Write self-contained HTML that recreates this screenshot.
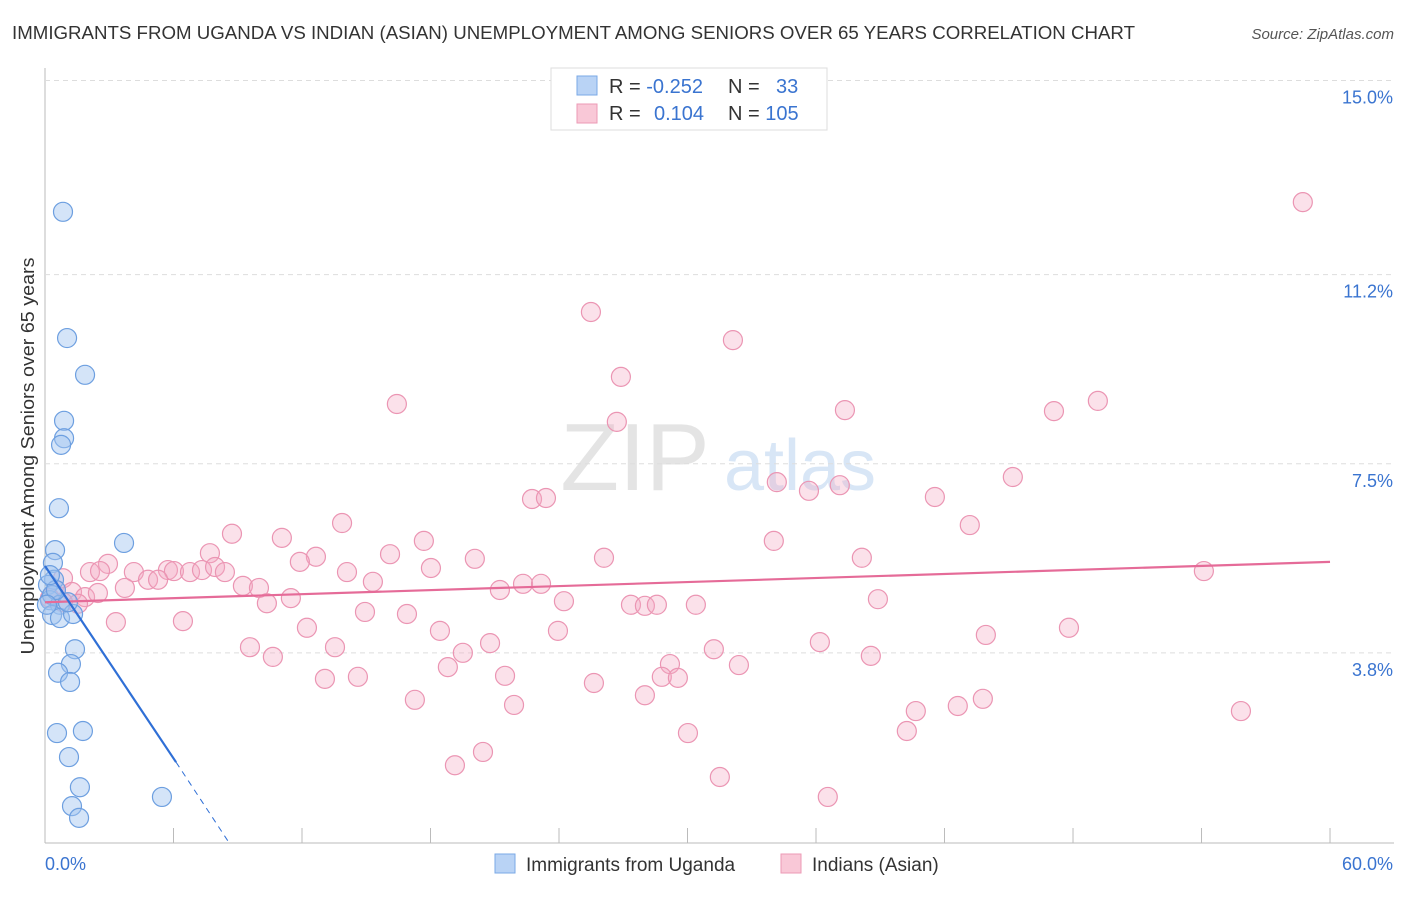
<!DOCTYPE html>
<html><head><meta charset="utf-8"><style>
body{margin:0;background:#fff;font-family:"Liberation Sans",sans-serif}
svg text{font-family:"Liberation Sans",sans-serif}
</style></head><body>
<svg id="chart" width="1406" height="892">
<text x="12" y="39" font-size="18" fill="#333" textLength="1123" lengthAdjust="spacingAndGlyphs">IMMIGRANTS FROM UGANDA VS INDIAN (ASIAN) UNEMPLOYMENT AMONG SENIORS OVER 65 YEARS CORRELATION CHART</text>
<text x="1394" y="39" font-size="15" fill="#555" font-style="italic" text-anchor="end">Source: ZipAtlas.com</text>
<text x="635" y="490" font-size="96" fill="#e4e4e4" font-family="Liberation Serif" text-anchor="middle">ZIP</text>
<text x="800" y="490" font-size="72" fill="#d8e6f6" text-anchor="middle">atlas</text>
<text transform="translate(34,456) rotate(-90)" font-size="18" fill="#333" text-anchor="middle" textLength="397" lengthAdjust="spacingAndGlyphs">Unemployment Among Seniors over 65 years</text>
<g id="grid"></g><g id="pts"></g><g id="lines"></g>
<g>
<rect x="551" y="68" width="276" height="62" fill="#fff" stroke="#ddd"/>
<rect x="577" y="76" width="20" height="19" fill="#b9d3f5" stroke="#7aa8e6"/>
<rect x="577" y="104" width="20" height="19" fill="#f9c8d7" stroke="#ec9ab5"/>
<text x="609" y="93" font-size="20" fill="#333">R = <tspan fill="#3a74d0">-0.252</tspan></text>
<text x="728" y="93" font-size="20" fill="#333">N = <tspan x="776" fill="#3a74d0">33</tspan></text>
<text x="609" y="120" font-size="20" fill="#333">R = <tspan x="654" fill="#3a74d0">0.104</tspan></text>
<text x="728" y="120" font-size="20" fill="#333">N = <tspan fill="#3a74d0">105</tspan></text>
</g>
<g>
<rect x="495" y="854" width="20" height="19" fill="#b9d3f5" stroke="#7aa8e6"/>
<text x="526" y="871" font-size="19" fill="#333">Immigrants from Uganda</text>
<rect x="781" y="854" width="20" height="19" fill="#f9c8d7" stroke="#ec9ab5"/>
<text x="812" y="871" font-size="19" fill="#333">Indians (Asian)</text>
</g>
</svg>
<script>
const yTicks=[3.8,7.5,11.2,15.0];
const yTickLabels=["3.8%","7.5%","11.2%","15.0%"];
const xTickCount=10;
const xLabels=["0.0%","60.0%"];
const ugX=[0.84,1.03,1.87,0.89,0.89,0.75,0.65,3.69,0.47,0.37,0.42,0.14,0.23,0.33,0.70,0.33,0.70,1.31,1.07,0.51,1.40,1.21,0.61,1.17,0.56,1.77,1.12,1.63,1.26,1.59,5.46,0.09,0.23];
const ugY=[12.43,9.96,9.24,8.34,8.00,7.87,6.63,5.95,5.81,5.56,5.23,5.13,4.83,4.93,4.74,4.54,4.48,4.56,4.79,5.03,3.87,3.58,3.41,3.23,2.23,2.27,1.76,1.17,0.80,0.57,0.98,4.74,5.32];
const inX=[58.73,25.49,32.12,26.89,16.43,37.35,47.11,49.16,26.70,22.74,23.39,34.17,35.67,37.11,41.55,45.19,43.18,13.87,8.73,11.06,17.69,7.70,12.65,11.90,16.11,20.07,26.10,34.03,38.14,54.11,2.94,2.10,2.57,4.15,5.74,6.02,6.77,7.33,7.94,8.40,4.81,5.28,3.73,9.24,9.99,14.10,15.31,18.02,21.24,22.32,23.16,10.36,11.48,14.94,16.90,24.23,27.36,28.01,28.57,30.39,38.89,3.31,6.44,12.23,18.44,23.95,9.57,13.54,19.51,20.78,10.64,31.23,36.18,38.56,43.93,47.81,18.81,21.48,13.07,14.61,29.18,28.80,29.55,32.40,25.63,28.01,17.27,21.90,40.66,42.62,43.79,55.84,30.02,40.24,20.45,19.14,31.51,36.55,0.84,0.51,1.26,1.87,2.47,0.84,0.23,1.54];
const inY=[12.62,10.47,9.92,9.20,8.67,8.55,8.53,8.73,8.32,6.81,6.83,7.14,6.97,7.08,6.85,7.24,6.30,6.34,6.13,6.05,5.99,5.75,5.68,5.58,5.73,5.64,5.66,5.99,5.66,5.40,5.54,5.38,5.40,5.38,5.42,5.40,5.38,5.42,5.48,5.38,5.23,5.23,5.07,5.11,5.07,5.38,5.19,5.46,5.03,5.15,5.15,4.77,4.87,4.60,4.56,4.81,4.74,4.72,4.74,4.74,4.85,4.40,4.42,4.29,4.23,4.23,3.91,3.91,3.80,3.99,3.72,3.87,4.01,3.74,4.15,4.29,3.52,3.35,3.29,3.33,3.58,3.33,3.31,3.56,3.21,2.97,2.88,2.78,2.66,2.76,2.90,2.66,2.23,2.27,1.86,1.60,1.37,0.98,5.26,5.03,4.99,4.89,4.97,4.79,4.87,4.76];
const ugTrend=[5.50,1.66,0.08];const ugTrendX=[0,6.12,8.6];
const inTrend=[4.79,5.58];const inTrendX=[0,60];
const NS="http://www.w3.org/2000/svg";
const X=v=>45+v*21.417, Y=v=>847-v*51.1;
function mk(t,a,p){const e=document.createElementNS(NS,t);for(const k in a)e.setAttribute(k,a[k]);p.appendChild(e);return e;}
const g=document.getElementById('grid');
let ax=mk('line',{x1:45,y1:68,x2:45,y2:843,stroke:'#bbb'},g);


let bx=mk('line',{x1:45,y1:843,x2:1394,y2:843,stroke:'#bbb'},g);


yTicks.forEach((v,i)=>{
 let l=mk('line',{x1:45,x2:1394,y1:Y(v),y2:Y(v),stroke:'#ddd','stroke-dasharray':'5,4'},g);
 
 
 let t=mk('text',{x:1393,y:Y(v)+23,'font-size':18,fill:'#3a74d0','text-anchor':'end'},g);t.textContent=yTickLabels[i];
 
 
});
for(let i=1;i<=xTickCount;i++){let l=mk('line',{x1:X(i*6),x2:X(i*6),y1:828,y2:843,stroke:'#bbb'},g);
 
 }
let t0=mk('text',{x:45,y:870,'font-size':18,fill:'#3a74d0'},g);t0.textContent=xLabels[0];


let t1=mk('text',{x:1393,y:870,'font-size':18,fill:'#3a74d0','text-anchor':'end'},g);t1.textContent=xLabels[1];


const p=document.getElementById('pts');
inX.forEach((x,i)=>{let c=mk('circle',{cx:X(x),cy:Y(inY[i]),r:9.5,fill:'rgba(244,170,196,0.35)',stroke:'#eb95b3','stroke-width':1.2},p);
 
 });
ugX.forEach((x,i)=>{let c=mk('circle',{cx:X(x),cy:Y(ugY[i]),r:9.5,fill:'rgba(160,195,240,0.45)',stroke:'#6d9fe0','stroke-width':1.2},p);
 
 });
const L=document.getElementById('lines');
let pl=mk('line',{x1:X(inTrendX[0]),y1:Y(inTrend[0]),x2:X(inTrendX[1]),y2:Y(inTrend[1]),stroke:'#e56b98','stroke-width':2.2},L);


let bl=mk('line',{x1:X(ugTrendX[0]),y1:Y(ugTrend[0]),x2:X(ugTrendX[1]),y2:Y(ugTrend[1]),stroke:'#2f6fd6','stroke-width':2.2},L);


let bd=mk('line',{x1:X(ugTrendX[1]),y1:Y(ugTrend[1]),x2:X(ugTrendX[2]),y2:Y(ugTrend[2]),stroke:'#2f6fd6','stroke-width':1,'stroke-dasharray':'6,5'},L);


</script>
</body></html>
